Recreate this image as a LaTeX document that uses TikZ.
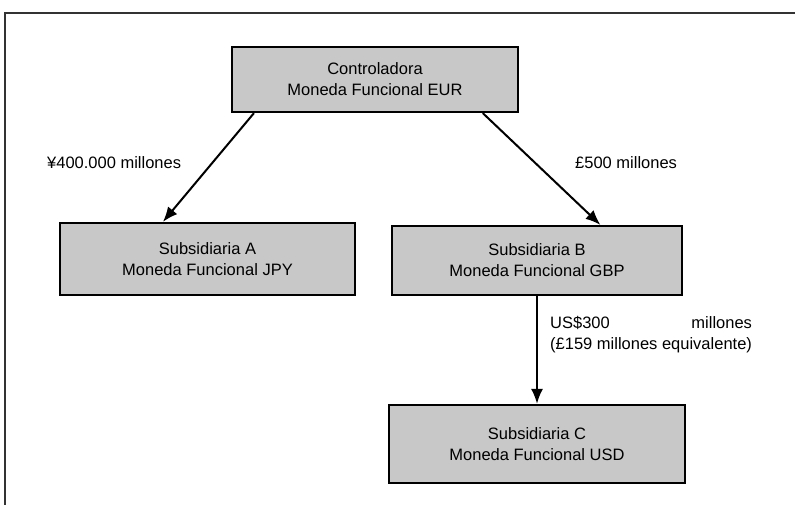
\documentclass[tikz,border=0pt]{standalone}
\usepackage{fontspec}
\setmainfont{Liberation Sans}
\definecolor{boxgray}{RGB}{200,200,200}
\usetikzlibrary{positioning,calc,arrows.meta}

\begin{document}
\begin{tikzpicture}[x=1pt,y=-1pt,
        every node/.style={font=\fontsize{16.5}{21}\selectfont},
        entity/.style={draw,line width=2.2pt,fill=boxgray,align=center,inner sep=0pt},
        amount/.style={inner sep=0pt,anchor=west},
        flow/.style={line width=2pt,-{Latex[length=15pt,width=12pt]}}
        ]
        \useasboundingbox (0,0) rectangle (795,505);

        % the frame
        \draw[line width=1.4pt,black!80] (5,505) -- (5,13) -- (795,13);

        % the companies
        \node[entity,minimum width=286pt,minimum height=65pt] (ctrl) at (375,79.5)
            {Controladora\\Moneda Funcional EUR};
        \node[entity,minimum width=295pt,minimum height=72pt] (subA) at (207.5,259)
            {Subsidiaria A\\Moneda Funcional JPY};
        \node[entity,minimum width=290pt,minimum height=69pt] (subB) at (537,260.5)
            {Subsidiaria B\\Moneda Funcional GBP};
        \node[entity,minimum width=296pt,minimum height=78pt] (subC) at (537,444)
            {Subsidiaria C\\Moneda Funcional USD};

        % the loans
        \draw[flow] ($(ctrl.south west)!0.08!(ctrl.south east)$) -- ($(subA.north west)!0.35!(subA.north east)$);
        \draw[flow] ($(ctrl.south west)!0.874!(ctrl.south east)$) -- ($(subB.north west)!0.717!(subB.north east)$);
        \draw[flow] (subB.south) -- (subC.north);

        % the amounts
        \node[amount] (amtA) at (47,163) {¥400.000 millones};
        \node[amount] (amtB) at (575,163) {£500 millones};
        \node[amount] (amtC) at (550,335)
            {\begin{tabular}{@{}c@{}}US\$300\hfill millones\\(£159 millones equivalente)\end{tabular}};
\end{tikzpicture}
\end{document}
